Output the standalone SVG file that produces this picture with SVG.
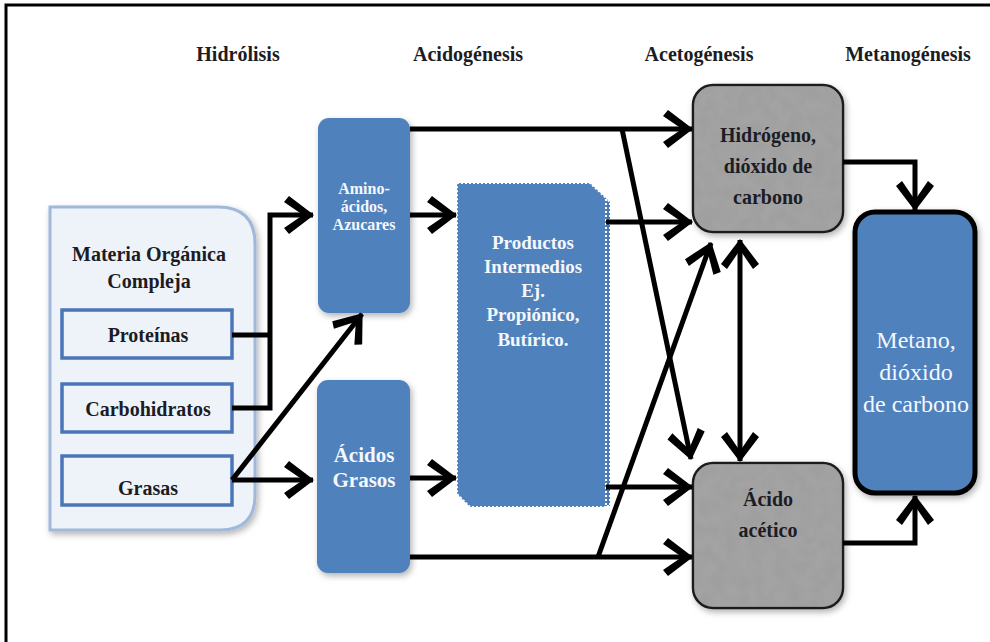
<svg xmlns="http://www.w3.org/2000/svg" width="990" height="642" viewBox="0 0 990 642">
<defs>
<style>
text{font-family:'Liberation Serif','DejaVu Serif',serif;font-weight:bold;text-anchor:middle}
.hdr{font-size:20px;fill:#1c1c24}
.dk{fill:#1c1c24}
.wt{fill:#f4f7fc}
.mt{fill:#f4f7fc;font-weight:normal}
.blue{fill:#4f81bd}
.item{fill:#eef3fa;stroke:#4a76b8;stroke-width:3.5}
.gray{fill:#9d9d9d;stroke:#1e1e1e;stroke-width:2.5}
.con{fill:none;stroke:#000;stroke-width:5;stroke-linejoin:miter}
</style>
<marker id="ah" viewBox="0 0 31 38" markerWidth="31" markerHeight="38" refX="29" refY="19" orient="auto-start-reverse" markerUnits="userSpaceOnUse">
<path d="M30,19 L5,0 L0,6 L19,19 L0,32 L5,38 Z" fill="#000"/>
</marker>
<filter id="sh" x="-20%" y="-20%" width="140%" height="140%">
<feDropShadow dx="2" dy="3" stdDeviation="3" flood-color="#000" flood-opacity="0.3"/>
</filter>
<filter id="tex" x="0" y="0" width="100%" height="100%">
<feTurbulence type="fractalNoise" baseFrequency="0.08" numOctaves="2" seed="3" result="n"/>
<feColorMatrix in="n" type="matrix" values="0 0 0 0 0.5  0 0 0 0 0.5  0 0 0 0 0.5  0 0 0 0.25 0" result="g"/>
<feComposite in="g" in2="SourceGraphic" operator="atop"/>
</filter>
</defs>
<rect x="0" y="0" width="990" height="642" fill="#fff"/>
<path d="M6,642 V5 H990" fill="none" stroke="#000" stroke-width="3"/>

<g id="headers">
<text class="hdr" x="238" y="61">Hidrólisis</text>
<text class="hdr" x="468" y="61">Acidogénesis</text>
<text class="hdr" x="699" y="61">Acetogénesis</text>
<text class="hdr" x="908" y="61">Metanogénesis</text>
</g>

<g id="materia">
<path d="M50,207 H218 Q255,207 255,244 V495 Q255,530 220,530 H50 Z" fill="#eef3fa" stroke="#9fb8db" stroke-width="3" filter="url(#sh)"/>
<text class="dk" x="149" y="261" font-size="20">Materia Orgánica</text>
<text class="dk" x="149" y="288" font-size="20">Compleja</text>
</g>
<g id="proteinas">
<rect class="item" x="62" y="310" width="170" height="48"/>
<text class="dk" x="148" y="342" font-size="20">Proteínas</text>
</g>
<g id="carbohidratos">
<rect class="item" x="62" y="384" width="170" height="48"/>
<text class="dk" x="148" y="416" font-size="20">Carbohidratos</text>
</g>
<g id="grasas">
<rect class="item" x="62" y="456" width="170" height="49"/>
<text class="dk" x="148" y="495" font-size="20">Grasas</text>
</g>

<g id="aminoacidos">
<rect class="blue" x="318" y="118" width="92" height="195" rx="11" filter="url(#sh)"/>
<text class="wt" x="364" y="194" font-size="16">Amino-</text>
<text class="wt" x="364" y="212" font-size="16">ácidos,</text>
<text class="wt" x="364" y="230" font-size="16">Azucares</text>
</g>
<g id="acidosgrasos">
<rect class="blue" x="317" y="380" width="93" height="193" rx="11" filter="url(#sh)"/>
<text class="wt" x="364" y="462" font-size="21">Ácidos</text>
<text class="wt" x="364" y="487" font-size="21">Grasos</text>
</g>
<g id="productos">
<path d="M461,187 L594,187 L610,202 L610,506 L474,506 L461,493 Z" fill="#4a79b3" stroke="#ffffff" stroke-width="2" stroke-dasharray="2,2"/>
<path d="M457,183 L590,183 L606,198 L606,507 L470,507 L457,494 Z" class="blue" stroke="#ffffff" stroke-width="2" stroke-dasharray="2,2"/>
<text class="wt" x="533" y="249" font-size="19">Productos</text>
<text class="wt" x="533" y="273" font-size="19">Intermedios</text>
<text class="wt" x="533" y="297" font-size="19">Ej.</text>
<text class="wt" x="533" y="321" font-size="19">Propiónico,</text>
<text class="wt" x="533" y="346" font-size="19">Butírico.</text>
</g>

<g id="hidrogeno">
<rect class="gray" x="693" y="85" width="150" height="147" rx="20" filter="url(#sh)"/>
<rect x="694.5" y="86.5" width="147" height="144" rx="19" fill="#9d9d9d" filter="url(#tex)"/>
<text class="dk" x="768" y="142" font-size="20">Hidrógeno,</text>
<text class="dk" x="768" y="173" font-size="20">dióxido de</text>
<text class="dk" x="768" y="204" font-size="20">carbono</text>
</g>
<g id="acidoacetico">
<rect class="gray" x="693" y="463" width="150" height="145" rx="20" filter="url(#sh)"/>
<rect x="694.5" y="464.5" width="147" height="142" rx="19" fill="#9d9d9d" filter="url(#tex)"/>
<text class="dk" x="768" y="506" font-size="20">Ácido</text>
<text class="dk" x="768" y="537" font-size="20">acético</text>
</g>
<g id="metano">
<rect x="855" y="212" width="120" height="281" rx="20" fill="#4f81bd" stroke="#000" stroke-width="5" filter="url(#sh)"/>
<text class="mt" x="916" y="348" font-size="24">Metano,</text>
<text class="mt" x="916" y="380" font-size="24">dióxido</text>
<text class="mt" x="916" y="412" font-size="24">de carbono</text>
</g>

<g id="connectors">
<path class="con" d="M232,335 H270"/>
<path class="con" d="M232,408 H270 V215 H313" marker-end="url(#ah)"/>
<path class="con" d="M232,480 H313" marker-end="url(#ah)"/>
<path class="con" d="M232,480 L362,314" marker-end="url(#ah)"/>
<path class="con" d="M410,215 H456" marker-end="url(#ah)"/>
<path class="con" d="M410,478 H456" marker-end="url(#ah)"/>
<path class="con" d="M410,129 H692" marker-end="url(#ah)"/>
<path class="con" d="M606,222 H692" marker-end="url(#ah)"/>
<path class="con" d="M606,487 H692" marker-end="url(#ah)"/>
<path class="con" d="M410,557 H692" marker-end="url(#ah)"/>
<path class="con" d="M622,129 L691,459" marker-end="url(#ah)"/>
<path class="con" d="M598,557 L711,243" marker-end="url(#ah)"/>
<path class="con" d="M740,240 V461" marker-start="url(#ah)" marker-end="url(#ah)"/>
<path class="con" d="M843,162 H915 V210" marker-end="url(#ah)"/>
<path class="con" d="M843,543 H915 V496" marker-end="url(#ah)"/>
</g>
</svg>
